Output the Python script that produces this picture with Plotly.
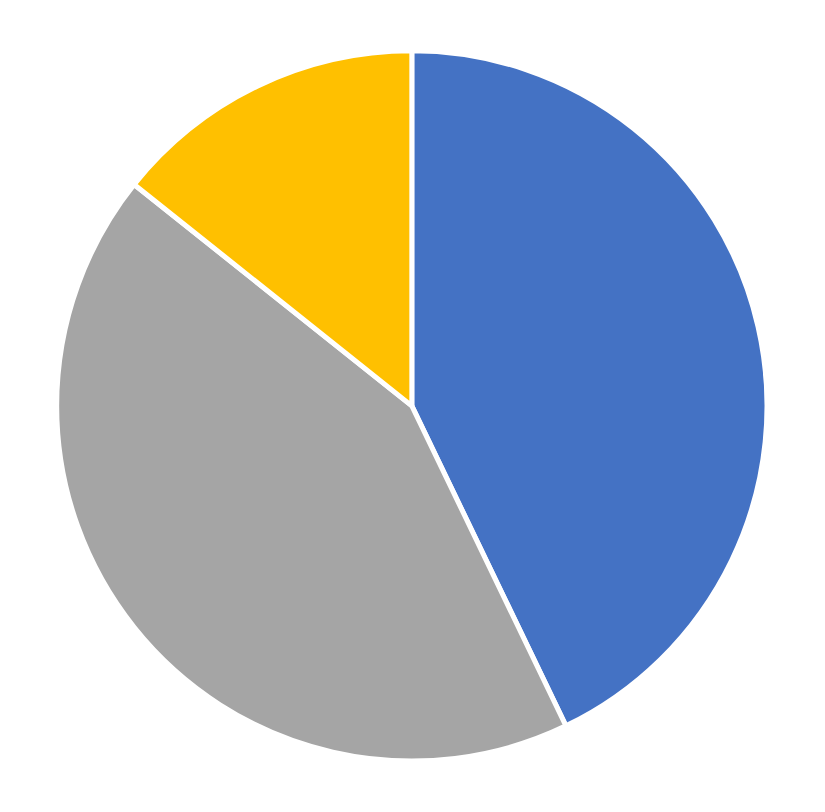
import plotly.graph_objects as go

labels = ["Series 1", "Series 2", "Series 3"]
values = [3, 3, 1]
colors = ["#4472C4", "#A5A5A5", "#FFC000"]

fig = go.Figure(go.Pie(
    labels=labels,
    values=values,
    sort=False,
    direction="clockwise",
    rotation=0,
    textinfo="none",
    hoverinfo="label+value+percent",
    marker=dict(colors=colors, line=dict(color="white", width=5)),
    domain=dict(x=[0.059, 0.920], y=[0.072, 0.948]),
))

fig.update_layout(
    width=825,
    height=812,
    showlegend=False,
    margin=dict(l=0, r=0, t=0, b=0),
    paper_bgcolor="white",
    plot_bgcolor="white",
)

fig.write_html("out.html")
